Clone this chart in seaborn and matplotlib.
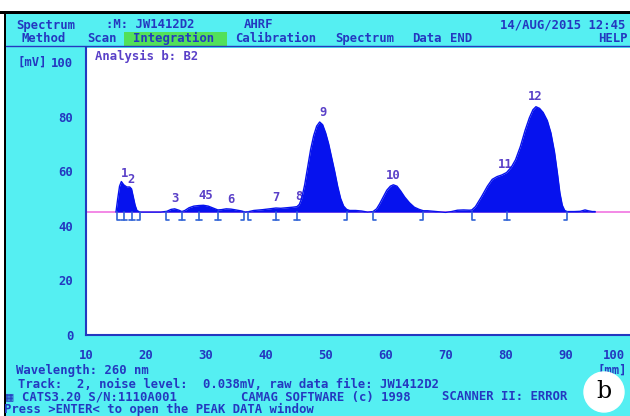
import numpy as np
import pandas as pd
import matplotlib.pyplot as plt
import seaborn as sns
from matplotlib.patches import Rectangle, Ellipse
from matplotlib.lines import Line2D

# Densitograma (pista 2) - posición [mm] y señal [mV]
pos_mm = [15.0, 15.3, 15.6, 15.9, 16.3, 16.8, 17.3, 17.6, 17.9, 18.2, 18.5, 19.0,
          20.5, 22.5, 23.5, 24.2, 24.8, 25.5, 26.0, 26.5, 27.2, 28.0, 28.8, 29.6,
          30.4, 31.2, 32.0, 32.6, 33.4, 34.2, 35.0, 36.0, 36.6, 37.2, 38.0, 39.5,
          41.0, 41.7, 42.5, 43.5, 44.5, 45.2, 45.6, 46.0, 46.5, 47.0, 47.5, 48.0,
          48.5, 49.0, 49.5, 50.0, 50.5, 51.0, 51.5, 52.0, 52.5, 53.0, 53.5, 54.0,
          55.0, 56.0, 57.0, 57.9, 58.5, 59.0, 59.6, 60.2, 60.8, 61.3, 61.9, 62.5,
          63.2, 64.0, 64.8, 65.6, 66.3, 67.0, 68.0, 69.0, 70.0, 71.0, 72.0, 73.0,
          74.0, 74.4, 75.0, 76.0, 77.0, 77.8, 78.6, 79.4, 80.2, 81.0, 81.7, 82.5,
          83.3, 84.0, 84.6, 85.1, 85.7, 86.3, 87.0, 87.6, 88.2, 88.7, 89.1, 89.5,
          89.9, 90.3, 91.5, 92.5, 93.3, 93.8, 94.5, 95.0]
signal_mv = [45.0, 50.0, 54.5, 56.2, 55.0, 54.2, 54.2, 53.5, 50.5, 47.5, 45.6, 45.0,
             45.0, 45.0, 45.3, 46.0, 46.2, 45.7, 45.2, 45.6, 46.6, 47.2, 47.4, 47.5,
             47.2, 46.5, 45.8, 45.9, 46.2, 46.1, 45.8, 45.4, 45.0, 45.2, 45.6, 45.9,
             46.3, 46.5, 46.4, 46.6, 46.8, 47.0, 47.8, 50.0, 55.0, 61.5, 68.0, 73.0,
             76.5, 78.0, 77.0, 74.0, 70.0, 65.0, 60.0, 54.5, 50.0, 47.2, 46.0, 45.6,
             45.6, 45.4, 45.0, 45.2, 46.2, 48.0, 50.5, 53.0, 54.5, 55.0, 54.5, 52.8,
             50.5, 48.4, 46.8, 46.0, 45.5, 45.5, 45.3, 45.1, 44.9, 45.2, 45.7, 45.8,
             45.7, 45.8, 47.0, 50.6, 54.5, 57.0, 58.0, 58.6, 59.5, 61.5, 64.2, 69.0,
             75.0, 79.5, 82.5, 83.6, 83.0, 81.5, 78.5, 74.0, 67.0, 59.0, 52.0, 47.5,
             45.6, 45.2, 45.2, 45.3, 45.8, 45.5, 45.2, 45.2]
baseline_mv = 45.0

# Etiquetas de los picos
peak_names = ["1", "2", "3", "45", "6", "7", "8", "9", "10", "11", "12"]
peak_x = [16.4, 17.5, 24.9, 30.0, 34.2, 41.7, 45.6, 49.5, 61.3, 80.0, 85.0]
peak_y = [59.2, 57.1, 50.1, 51.0, 49.8, 50.4, 50.7, 81.6, 58.4, 62.6, 87.5]

# Marcas de integración (inicio, máximo, fin)
mark_start = [15.2, 23.4, 37.1, 57.9, 74.4]
mark_mid = [16.4, 17.6, 26.1, 28.9, 32.0, 41.7, 45.2, 80.2]
mark_end = [19.0, 36.3, 53.5, 66.3, 90.3]

# Colores de la pantalla
cyan = "#55eff2"
txt_blue = "#2438c0"
fill_blue = "#0612ee"
pink = "#f27fe4"
green = "#52e05a"
purple = "#5a40c8"
mark_blue = "#2f62d6"
fs = 8.8

sns.set_theme(style="white")
plt.rcParams["font.family"] = ["DejaVu Sans Mono", "DejaVu Sans"]
plt.rcParams["font.weight"] = "bold"

W, H = 630, 416
fig = plt.figure(figsize=(6.3, 4.16), dpi=100, facecolor=cyan)


def fx(x):
    return x / W


def fy(y):
    return 1 - y / H


def rect(x0, y0, x1, y1, color):
    fig.add_artist(Rectangle((fx(x0), fy(y1)), fx(x1 - x0), (y1 - y0) / H,
                             transform=fig.transFigure, color=color, lw=0, zorder=0))


def label(x, y, s, color=txt_blue, size=fs, **kw):
    fig.text(fx(x), fy(y), s, color=color, fontsize=size, va="center", ha="left", **kw)


# Marco de la pantalla
rect(0, 0, W, 11, "white")
rect(0, 11, 4, H, "white")
rect(0, 11, W, 14, "black")
rect(4, 11, 6, H, "black")
rect(124, 32, 227, 46, green)
fig.add_artist(Line2D([fx(6), fx(W)], [fy(46), fy(46)], transform=fig.transFigure,
                      color=txt_blue, lw=1))

# Cabecera y menú
label(16, 25, "Spectrum")
label(106, 25, ":M: JW1412D2")
label(244, 25, "AHRF")
label(500, 25, "14/AUG/2015 12:45")
for x, s in [(22, "Method"), (87, "Scan"), (133, "Integration"), (235, "Calibration"),
             (335, "Spectrum"), (412, "Data"), (450, "END"), (598, "HELP")]:
    label(x, 38.5, s)

# Gráfica principal
ax = fig.add_axes([fx(86), fy(335), fx(W - 86), (335 - 48) / H])
ax.set_facecolor("white")

df = pd.DataFrame({"pos": pos_mm, "mv": signal_mv})
ax.axhline(baseline_mv, color=pink, lw=1.3, zorder=1)
for name, x, y in zip(peak_names, peak_x, peak_y):
    ax.text(x, y, name, color=purple, fontsize=fs, ha="center", va="center", zorder=1)
ax.fill_between(df["pos"], baseline_mv, df["mv"], color=fill_blue, lw=0, zorder=2)
sns.lineplot(data=df, x="pos", y="mv", ax=ax, color=fill_blue, lw=1.0, zorder=3,
             sort=False)

# Marcas de integración bajo la línea base
depth, foot = 2.8, 0.5
for x in mark_start:
    ax.plot([x, x, x + foot], [baseline_mv, baseline_mv - depth, baseline_mv - depth],
            color=mark_blue, lw=1.2, zorder=3)
for x in mark_mid:
    ax.plot([x, x], [baseline_mv, baseline_mv - depth], color=mark_blue, lw=1.2, zorder=3)
    ax.plot([x - foot, x + foot], [baseline_mv - depth] * 2, color=mark_blue, lw=1.2, zorder=3)
for x in mark_end:
    ax.plot([x, x, x - foot], [baseline_mv, baseline_mv - depth, baseline_mv - depth],
            color=mark_blue, lw=1.2, zorder=3)

ax.set_xlim(10, 100.8)
ax.set_ylim(0, 105.1)
ax.set_xticks(np.arange(10, 101, 10))
ax.set_xticks(np.arange(15, 100, 10), minor=True)
ax.set_yticks(np.arange(0, 101, 20))
ax.set_yticks(np.arange(10, 100, 20), minor=True)
ax.set_xlabel("")
ax.set_ylabel("")
for side in ["top", "right"]:
    ax.spines[side].set_visible(False)
for side in ["left", "bottom"]:
    ax.spines[side].set_color(txt_blue)
    ax.spines[side].set_linewidth(1.5)
ax.tick_params(which="both", direction="out", color=txt_blue, width=1.2,
               labelcolor=txt_blue, labelsize=fs)
ax.tick_params(which="major", length=5)
ax.tick_params(which="minor", length=3)
ax.tick_params(axis="x", which="major", pad=5)
ax.tick_params(axis="y", which="major", pad=4)
ax.get_xticklabels()[-1].set_horizontalalignment("right")

label(95, 56, "Analysis b: B2", color=purple)
label(17, 62, "[mV]")

# Pie de pantalla
label(16, 370.5, "Wavelength: 260 nm")
label(597, 370.5, "[mm]")
label(18, 384, "Track:  2, noise level:")
label(203, 384, "0.038mV, raw data file: JW1412D2")
label(6, 397, "\u25a6")
label(22, 397, "CATS3.20 S/N:1110A001")
label(241, 397, "CAMAG SOFTWARE (c) 1998")
label(442, 397, "SCANNER II: ERROR")
label(4, 409.5, "Press >ENTER< to open the PEAK DATA window")

# Letra del panel
fig.add_artist(Ellipse((fx(604), fy(392)), 40 / W, 40 / H, transform=fig.transFigure,
                       color="white", zorder=5))
fig.text(fx(604), fy(392), "b", fontsize=17, color="black", ha="center", va="center",
         family="DejaVu Serif", weight="normal", zorder=6)

fig.savefig("out.png", dpi=100, facecolor=cyan)
